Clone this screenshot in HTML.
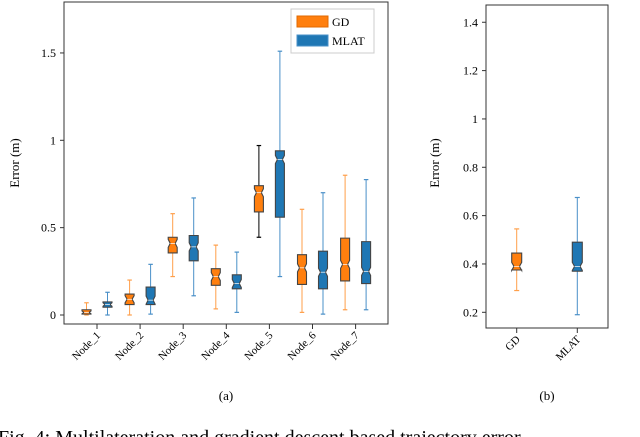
<!DOCTYPE html>
<html><head><meta charset="utf-8"><style>
body{margin:0;background:#fff;width:640px;height:437px;overflow:hidden}
svg{display:block;font-family:"Liberation Serif",serif}
</style></head><body>
<svg id="s" width="640" height="437">
<rect x="64" y="2" width="324" height="322" fill="none" stroke="#333" stroke-width="1"/>
<rect x="486" y="5" width="122" height="323" fill="none" stroke="#333" stroke-width="1"/>
<text transform="translate(19,163) rotate(-90)" text-anchor="middle" font-size="13">Error (m)</text>
<text transform="translate(439,163) rotate(-90)" text-anchor="middle" font-size="13">Error (m)</text>
<text x="226" y="400" text-anchor="middle" font-size="13">(a)</text>
<text x="547" y="400" text-anchor="middle" font-size="13">(b)</text>
<text x="-2" y="444" font-size="20">Fig. 4: Multilateration and gradient descent based trajectory error</text>
<g>
<rect x="291" y="9" width="83" height="44" fill="#fff" stroke="#ccc"/>
<rect x="297" y="16" width="31" height="11" fill="#ff7f0e" stroke="#e06a00"/>
<text x="332" y="26" font-size="12">GD</text>
<rect x="297" y="35" width="31" height="11" fill="#1f77b4" stroke="#4a90c8"/>
<text x="332" y="45" font-size="12">MLAT</text>
</g>
</svg>
<script>
const categories=["Node_1","Node_2","Node_3","Node_4","Node_5","Node_6","Node_7"];
const gdLow=[0.0,0.0,0.22,0.035,0.445,0.015,0.03];
const gdQ1=[0.005,0.06,0.355,0.17,0.59,0.175,0.195];
const gdMed=[0.015,0.09,0.41,0.22,0.70,0.27,0.29];
const gdQ3=[0.03,0.12,0.445,0.265,0.74,0.345,0.44];
const gdHigh=[0.07,0.2,0.58,0.40,0.97,0.605,0.80];
const mlLow=[0.0,0.005,0.11,0.015,0.22,0.005,0.03];
const mlQ1=[0.045,0.06,0.31,0.15,0.56,0.15,0.18];
const mlMed=[0.06,0.085,0.39,0.18,0.89,0.245,0.25];
const mlQ3=[0.075,0.16,0.455,0.23,0.94,0.365,0.42];
const mlHigh=[0.13,0.29,0.67,0.36,1.51,0.70,0.775];
const ticksA=[0,0.5,1,1.5];
const tickLabelsA=["0","0.5","1","1.5"];
const catsB=["GD","MLAT"];
const bLow=[0.29,0.19],bQ1=[0.375,0.37],bMed=[0.39,0.39],bQ3=[0.445,0.49],bHigh=[0.545,0.675];
const ticksB=[0.2,0.4,0.6,0.8,1,1.2,1.4];
const tickLabelsB=["0.2","0.4","0.6","0.8","1","1.2","1.4"];

const S=document.getElementById('s'),NS="http://www.w3.org/2000/svg";
function mk(t,a,p){const e=document.createElementNS(NS,t);for(const k in a)e.setAttribute(k,a[k]);(p||S).appendChild(e);return e;}
const yA=v=>315-v*174.7, xA=i=>97+i*43.1;
const yB=v=>312.3-(v-0.2)*241.7, xB=i=>516.7+i*60.6;
function box(cx,y,lo,q1,md,q3,hi,w,fill,wc,name){
 const g=mk('g',{});
 
 
 const c=w/4;
 mk('line',{x1:cx,x2:cx,y1:y(hi),y2:y(lo),stroke:wc,'stroke-width':1},g);
 mk('line',{x1:cx-c,x2:cx+c,y1:y(hi),y2:y(hi),stroke:wc,'stroke-width':1.2},g);
 mk('line',{x1:cx-c,x2:cx+c,y1:y(lo),y2:y(lo),stroke:wc,'stroke-width':1.2},g);
 const h=w/2,t1=y(q3),t2=y(q1),m=y(md),n=Math.min(4,(t2-t1)/3),nw=h*0.55;
 mk('polygon',{points:`${cx-h},${t1} ${cx+h},${t1} ${cx+h},${m-n} ${cx+nw},${m} ${cx+h},${m+n} ${cx+h},${t2} ${cx-h},${t2} ${cx-h},${m+n} ${cx-nw},${m} ${cx-h},${m-n}`,fill:fill,stroke:'#444','stroke-width':1.1},g);
 mk('line',{x1:cx-nw,x2:cx+nw,y1:m,y2:m,stroke:'#fff','stroke-width':0.7},g);
}
ticksA.forEach((v,i)=>{
 const l=mk('line',{x1:60,x2:64,y1:yA(v),y2:yA(v),stroke:'#333'});
 
 
 const t=mk('text',{x:56,y:yA(v)+4,'text-anchor':'end','font-size':12});
 t.textContent=tickLabelsA[i];
 
 
});
categories.forEach((c,i)=>{
 const x=xA(i);
 const l=mk('line',{x1:x,x2:x,y1:324,y2:329,stroke:'#333'});
 
 
 const t=mk('text',{transform:`translate(${x+4},${336}) rotate(-45)`,'text-anchor':'end','font-size':11});
 t.textContent=c;
 
 
 box(x-10.5,yA,gdLow[i],gdQ1[i],gdMed[i],gdQ3[i],gdHigh[i],9,'#ff7f0e',i==4?'#000':'#ff9f4a','box-gd-'+(i+1));
 box(x+10.5,yA,mlLow[i],mlQ1[i],mlMed[i],mlQ3[i],mlHigh[i],9,'#1f77b4','#4a90c8','box-mlat-'+(i+1));
});
ticksB.forEach((v,i)=>{
 const l=mk('line',{x1:482,x2:486,y1:yB(v),y2:yB(v),stroke:'#333'});
 
 
 const t=mk('text',{x:478,y:yB(v)+4,'text-anchor':'end','font-size':12});
 t.textContent=tickLabelsB[i];
 
 
});
catsB.forEach((c,i)=>{
 const x=xB(i);
 const l=mk('line',{x1:x,x2:x,y1:328,y2:333,stroke:'#333'});
 
 
 const t=mk('text',{transform:`translate(${x+4},${340}) rotate(-45)`,'text-anchor':'end','font-size':11});
 t.textContent=c;
 
 
 box(x,yB,bLow[i],bQ1[i],bMed[i],bQ3[i],bHigh[i],10,i?'#1f77b4':'#ff7f0e',i?'#4a90c8':'#ff9f4a','box-b-'+c.toLowerCase());
});
</script>
</body></html>
